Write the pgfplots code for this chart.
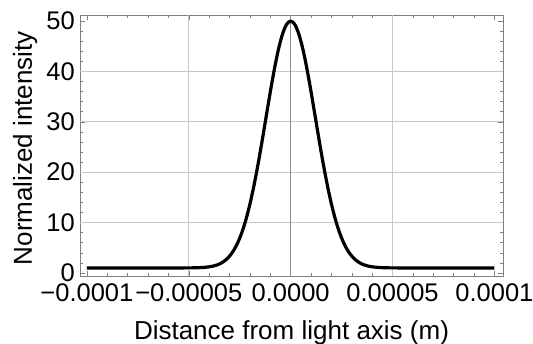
\documentclass[border=0pt]{standalone}
\usepackage{fontspec}
\setmainfont{Liberation Sans}
\usepackage{pgfplots}
\pgfplotsset{compat=1.18}
\begin{document}
\begin{tikzpicture}
\path[use as bounding box] (-80pt,-68pt) rectangle (453pt,276pt);
\begin{axis}[
  scale only axis,
  width=423pt, height=261pt,
  xmin=-1.034e-4, xmax=1.042e-4,
  ymin=-0.6, ymax=51.2,
  axis line style={draw=black!50, line width=0.8pt},
  xtick={-1e-4,-5e-5,0,5e-5,1e-4},
  xticklabels={−0.0001,−0.00005,0.0000,0.00005,0.0001},
  ytick={0,10,20,30,40,50},
  yticklabels={0,10,20,30,40,50},
  minor x tick num=4,
  minor y tick num=4,
  tick align=inside,
  major tick length=5pt,
  minor tick length=3pt,
  tick style={draw=black!50, line width=0.6pt},
  every tick label/.append style={font=\fontsize{25.5}{30}\selectfont, inner sep=0pt},
  xticklabel shift=7pt,
  yticklabel shift=5pt,
  scaled x ticks=false,
  extra x ticks={-5e-5,5e-5},
  extra x tick labels={},
  extra x tick style={grid=major, major grid style={draw=black!22, line width=0.8pt}, major tick length=0pt},
  extra y ticks={10,20,30,40},
  extra y tick labels={},
  extra y tick style={grid=major, major grid style={draw=black!22, line width=0.8pt}, major tick length=0pt},
  xlabel={Distance from light axis (m)},
  ylabel={Normalized intensity},
  every axis x label/.style={at={(axis description cs:0.5,-0.245)}, anchor=base, font=\fontsize{26}{30}\selectfont},
  every axis y label/.style={at={(axis description cs:-0.1135,0.49)}, anchor=base, rotate=90, font=\fontsize{26}{30}\selectfont},
]
% vertical axis line at x = 0
\addplot[draw=black!45, line width=0.9pt, forget plot] coordinates {(0,-0.6) (0,51.2)};
\addplot[black, line width=3.2pt, smooth, line join=round] coordinates {
(-1e-4,1.00) (-8e-5,1.00) (-6e-5,1.00) (-5e-5,1.01) (-4.8e-5,1.02) (-4.6e-5,1.04) (-4.4e-5,1.07) (-4.2e-5,1.13)
(-4e-5,1.22) (-3.8e-5,1.37) (-3.6e-5,1.61) (-3.4e-5,1.98) (-3.2e-5,2.54) (-3e-5,3.34)
(-2.8e-5,4.46) (-2.6e-5,5.99) (-2.4e-5,7.99) (-2.2e-5,10.54) (-2e-5,13.68) (-1.8e-5,17.39)
(-1.6e-5,21.62) (-1.4e-5,26.26) (-1.2e-5,31.12) (-1e-5,35.95) (-8e-6,40.47) (-6e-6,44.39)
(-4e-6,47.42) (-2e-6,49.34) (0,50.00)
(2e-6,49.34) (4e-6,47.42) (6e-6,44.39) (8e-6,40.47) (1e-5,35.95) (1.2e-5,31.12)
(1.4e-5,26.26) (1.6e-5,21.62) (1.8e-5,17.39) (2e-5,13.68) (2.2e-5,10.54) (2.4e-5,7.99)
(2.6e-5,5.99) (2.8e-5,4.46) (3e-5,3.34) (3.2e-5,2.54) (3.4e-5,1.98) (3.6e-5,1.61)
(3.8e-5,1.37) (4e-5,1.22) (4.2e-5,1.13) (4.4e-5,1.07) (4.6e-5,1.04) (4.8e-5,1.02) (5e-5,1.01)
(6e-5,1.00) (8e-5,1.00) (1e-4,1.00)
};
\end{axis}
\end{tikzpicture}
\end{document}
